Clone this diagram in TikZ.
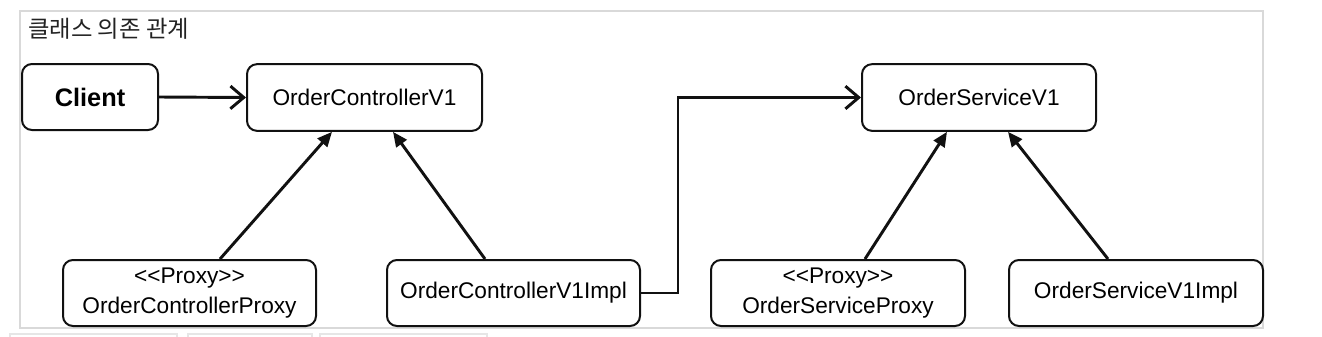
\documentclass[tikz,border=0pt]{standalone}
\usepackage{fontspec}
\setmainfont{Liberation Sans}
\newfontfamily\krfont{Noto Sans CJK KR}
\usetikzlibrary{arrows.meta,calc}
\definecolor{framegray}{HTML}{D9D9D9}
\definecolor{tabgray}{HTML}{E6E6E6}
\definecolor{inkblack}{HTML}{111111}
\definecolor{titlegray}{HTML}{222222}
\begin{document}
\begin{tikzpicture}[x=0.75pt,y=-0.75pt,
  box/.style={draw=inkblack,line width=1.5pt,rounded corners=7.5pt,fill=white,
    inner sep=0pt,align=center,font=\fontsize{17}{22}\selectfont},
  realize/.style={draw=inkblack,line width=2.2pt,-{Triangle[length=11pt,width=9.5pt]}},
  depend/.style={draw=inkblack,line width=2.2pt,-{Straight Barb[length=10pt,width=17pt,line width=2.2pt]}}]
\useasboundingbox (0,0) rectangle (1322,336);
\clip (0,0) rectangle (1322,336);
% frame
\draw[framegray,line width=1.5pt] (20,11) rectangle (1263,328);
% partial tabs at bottom edge
\draw[tabgray,line width=1.5pt,fill=white] (10,334) rectangle (177,345);
\draw[tabgray,line width=1.5pt,fill=white] (188,334) rectangle (312,345);
\draw[tabgray,line width=1.5pt,fill=white] (320,334) rectangle (487,345);
% title
\node[anchor=base west,inner sep=0pt,text=titlegray,font=\krfont\fontsize{17.5}{20}\selectfont] (title) at (28,37) {클래스 의존 관계};
% nodes
\node[box,minimum width=102pt,minimum height=49.5pt,font=\bfseries\fontsize{19}{23}\selectfont] (client) at (90,97) {Client};
\node[box,minimum width=176.25pt,minimum height=50pt] (ocv1) at (364.5,97.5) {OrderControllerV1};
\node[box,minimum width=175.5pt,minimum height=50pt] (osv1) at (979,97.5) {OrderServiceV1};
\node[box,minimum width=189.75pt,minimum height=49.5pt] (ocproxy) at (189.5,293) {{<}{<}Proxy{>}{>}\\OrderControllerProxy};
\node[box,minimum width=189.75pt,minimum height=49.5pt] (ocimpl) at (513.5,293) {OrderControllerV1Impl};
\node[box,minimum width=190.5pt,minimum height=49.5pt] (osproxy) at (838,293) {{<}{<}Proxy{>}{>}\\OrderServiceProxy};
\node[box,minimum width=190.5pt,minimum height=49.5pt] (osimpl) at (1136,293) {OrderServiceV1Impl};
% connectors
\draw[depend] (client.east) -- (ocv1.west);
\draw[realize] ($(ocproxy.north)+(30.5,0)$) -- ($(ocv1.south)+(-32.5,0)$);
\draw[realize] ($(ocimpl.north)+(-28.5,0)$) -- ($(ocv1.south)+(28.5,0)$);
\draw[realize] ($(osproxy.north)+(27,0)$) -- ($(osv1.south)+(-32,0)$);
\draw[realize] ($(osimpl.north)+(-28,0)$) -- ($(osv1.south)+(29,0)$);
\coordinate (bendlow) at (678,293);
\coordinate (bendhigh) at (678,97.5);
\draw[depend] (ocimpl.east) -- (bendlow) -- (bendhigh) -- (osv1.west);
\end{tikzpicture}
\end{document}
